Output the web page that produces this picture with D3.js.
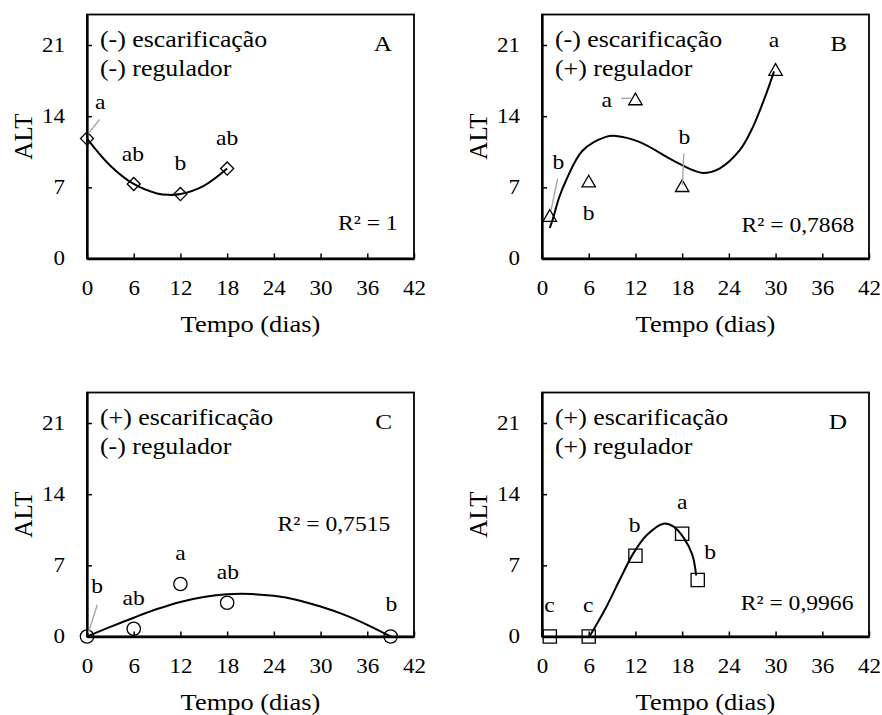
<!DOCTYPE html>
<html>
<head>
<meta charset="utf-8">
<script src="https://cdn.jsdelivr.net/npm/d3@7"></script>
<style>
  body { margin: 0; background: #fff; }
</style>
</head>
<body>
<div id="chart"></div>
<script>
// ---- data ----
var xTicks = [0, 6, 12, 18, 24, 30, 36, 42];
var yTicks = [0, 7, 14, 21];
var panelIds = ["A", "B", "C", "D"];
var escarLabels = ["(-) escarificação", "(-) escarificação", "(+) escarificação", "(+) escarificação"];
var regLabels = ["(-) regulador", "(+) regulador", "(-) regulador", "(+) regulador"];
var r2Labels = ["R² = 1", "R² = 0,7868", "R² = 0,7515", "R² = 0,9966"];
var markerTypes = ["diamond", "triangle", "circle", "square"];

// observed means (dias, ALT)
var daysA = [0, 6, 12, 18];
var altA = [11.8, 7.33, 6.34, 8.85];
var daysB = [1, 6, 12, 18, 30];
var altB = [4.14, 7.52, 15.6, 7.07, 18.5];
var daysC = [0, 6, 12, 18, 39];
var altC = [0, 0.76, 5.16, 3.32, 0];
var daysD = [1, 6, 12, 18, 20];
var altD = [0, 0, 7.95, 10.1, 5.55];

// significance letters
var letA = ["a", "ab", "b", "ab"];
var letB = ["b", "b", "a", "b", "a"];
var letC = ["b", "ab", "a", "ab", "b"];
var letD = ["c", "c", "b", "a", "b"];
// where the letters sit, in chart units [dias, ALT]
var letPosA = [[1.7, 14.66], [5.9, 9.57], [12, 8.68], [18, 11.14]];
var letPosB = [[2.1, 8.85], [6, 3.75], [8.3, 14.86], [18.3, 11.3], [29.8, 20.8]];
var letPosC = [[1.3, 4.3], [6, 3.12], [12, 7.55], [18.1, 5.68], [39.1, 2.46]];
var letPosD = [[0.95, 2.4], [5.95, 2.4], [11.9, 10.3], [18, 12.5], [21.6, 7.65]];

// grey leader lines [[x1,y1],[x2,y2]]
var leadA = [[[0.2, 12.29], [1.62, 13.67]]];
var leadB = [[[1.16, 4.73], [2.01, 7.86]], [[10.17, 15.75], [11.58, 15.75]], [[18.22, 10.33], [18.02, 7.2]]];
var leadC = [[[0.17, 0.36], [1.32, 3.12]]];
var leadD = [];

// trend lines, points
var trendA = [[0, 11.8], [3, 9.13], [6, 7.33], [9, 6.4], [10.5, 6.26], [12, 6.34], [15, 7.15], [18, 8.85]];
var trendB = [[1, 3.0], [1.4, 3.9], [2.2, 6.0], [3.1, 7.7], [5.2, 10.6], [8.2, 11.96], [9.5, 12.06],
  [12.5, 11.47], [16.8, 9.66], [19.4, 8.68], [20.7, 8.42], [22.8, 8.85], [25.4, 10.65], [27.1, 12.95],
  [28.8, 16.2], [29.8, 18.4]];
var trendC = [[0, 0], [3, 0.95], [6, 1.85], [9, 2.7], [12, 3.4], [15, 3.88], [18, 4.15], [21, 4.18],
  [24, 4.0], [27, 3.6], [30, 2.95], [33, 2.15], [36, 1.15], [39, 0]];
var trendD = [[6.1, 0], [8.3, 2.96], [10, 5.6], [11.75, 8.2], [13.5, 10.0], [15.6, 11.1], [16.9, 10.8],
  [18.2, 9.7], [19.3, 8.05], [19.8, 6.0]];

var r2Pos = [[39.9, 2.76], [40.1, 2.56], [38.95, 10.41], [40.0, 2.62]];

var panels = [
  { days: daysA, alt: altA, lets: letA, letPos: letPosA, lead: leadA, trend: trendA },
  { days: daysB, alt: altB, lets: letB, letPos: letPosB, lead: leadB, trend: trendB },
  { days: daysC, alt: altC, lets: letC, letPos: letPosC, lead: leadC, trend: trendC },
  { days: daysD, alt: altD, lets: letD, letPos: letPosD, lead: leadD, trend: trendD }
];

// ---- layout ----
var W = 882, H = 715;
var lefts = [87, 542, 87, 542];
var tops = [14.5, 14.5, 392.5, 392.5];
var pw = 327, ph = 244;
var SX = 1.15; // the figure's text is a bit wide
var SERIF = "'Liberation Serif'";

var svg = d3.select("#chart").append("svg")
  .attr("width", W)
  .attr("height", H)
  .attr("font-family", "Liberation Serif");

function txt(g, x, y, s, size, anchor) {
  return g.append("text")
    .attr("transform", "translate(" + x + "," + y + ") scale(" + SX + ",1)")
    .attr("text-anchor", anchor || "start")
    .style("font-family", SERIF)
    .style("font-size", size + "px")
    .style("fill", "#000")
    .text(s);
}

panels.forEach(function(p, i) {
  var x0 = lefts[i], y0 = tops[i];
  var x = d3.scaleLinear().domain([0, 42]).range([x0, x0 + pw]);
  var y = d3.scaleLinear().domain([0, 24]).range([y0 + ph, y0]);
  var g = svg.append("g");

  // frame
  g.append("rect")
    .attr("x", x0).attr("y", y0)
    .attr("width", pw).attr("height", ph)
    .attr("fill", "none")
    .attr("stroke", "#000")
    .attr("stroke-width", 1.8);

  var xAxis = d3.axisBottom(x).tickValues(xTicks).tickSizeInner(-5).tickSizeOuter(0).tickPadding(22);
  var yAxis = d3.axisLeft(y).tickValues(yTicks).tickSizeInner(-5).tickSizeOuter(0).tickPadding(22);

  var gx = g.append("g")
    .attr("transform", "translate(0," + y(0) + ")")
    .call(xAxis);
  var gy = g.append("g")
    .attr("transform", "translate(" + x0 + ",0)")
    .call(yAxis);

  [gx, gy].forEach(function(a) {
    a.attr("font-family", "Liberation Serif").attr("font-size", null);
    a.select(".domain").attr("stroke", "#000").attr("stroke-width", 2.3);
    a.selectAll(".tick line").attr("stroke", "#000").attr("stroke-width", 1.5);
    a.selectAll("text")
      .style("font-family", SERIF)
      .style("font-size", "20px")
      .attr("fill", "#000");
  });
  gx.selectAll(".tick text").attr("transform", "scale(" + SX + ",1)");
  gy.selectAll(".tick text").attr("x", -22 / SX).attr("transform", "scale(" + SX + ",1)");

  // axis titles
  txt(g, x0 + pw / 2, y(0) + 73, "Tempo (dias)", 23, "middle");
  g.append("text")
    .attr("transform", "translate(" + (x0 - 55) + "," + (y0 + ph / 2) + ") rotate(-90)")
    .attr("text-anchor", "middle")
    .style("font-family", SERIF)
    .style("font-size", "25px")
    .text("ALT");

  // treatment text, panel id, R²
  txt(g, x0 + 13, y0 + 32, escarLabels[i], 22.5);
  txt(g, x0 + 13, y0 + 61, regLabels[i], 22.5);
  txt(g, x0 + pw - 22, y0 + 36, panelIds[i], 22, "end");
  txt(g, x(r2Pos[i][0]), y(r2Pos[i][1]), r2Labels[i], 20.5, "end");

  // trend line
  var line = d3.line()
    .x(function(d) { return x(d[0]); })
    .y(function(d) { return y(d[1]); })
    .curve(d3.curveCatmullRom);

  // markers
  var sym;
  if (markerTypes[i] === "diamond") sym = d3.symbol().type(d3.symbolSquare).size(85);
  else if (markerTypes[i] === "triangle") sym = d3.symbol().type(d3.symbolTriangle).size(78);
  else if (markerTypes[i] === "circle") sym = d3.symbol().type(d3.symbolCircle).size(140);
  else sym = d3.symbol().type(d3.symbolSquare).size(175);

  g.selectAll("path.mk")
    .data(p.days)
    .enter()
    .append("path")
    .attr("class", "mk")
    .attr("d", sym)
    .attr("transform", function(d, j) {
      var t = "translate(" + x(d) + "," + y(p.alt[j]) + ")";
      if (markerTypes[i] === "diamond") t += " rotate(45)";
      if (markerTypes[i] === "triangle") t += " translate(0,1)";
      return t;
    })
    .attr("fill", "none")
    .attr("stroke", "#000")
    .attr("stroke-width", 1.3);

  g.append("path")
    .datum(p.trend)
    .attr("d", line)
    .attr("fill", "none")
    .attr("stroke", "#000")
    .attr("stroke-width", 2);

  // leaders
  g.selectAll("line.ld")
    .data(p.lead)
    .enter()
    .append("line")
    .attr("class", "ld")
    .attr("x1", function(d) { return x(d[0][0]); })
    .attr("y1", function(d) { return y(d[0][1]); })
    .attr("x2", function(d) { return x(d[1][0]); })
    .attr("y2", function(d) { return y(d[1][1]); })
    .attr("stroke", "#a6a6a6")
    .attr("stroke-width", 1.4);

  // letters
  p.lets.forEach(function(l, j) {
    txt(g, x(p.letPos[j][0]), y(p.letPos[j][1]), l, 20.5, "middle");
  });
});
</script>
</body>
</html>
